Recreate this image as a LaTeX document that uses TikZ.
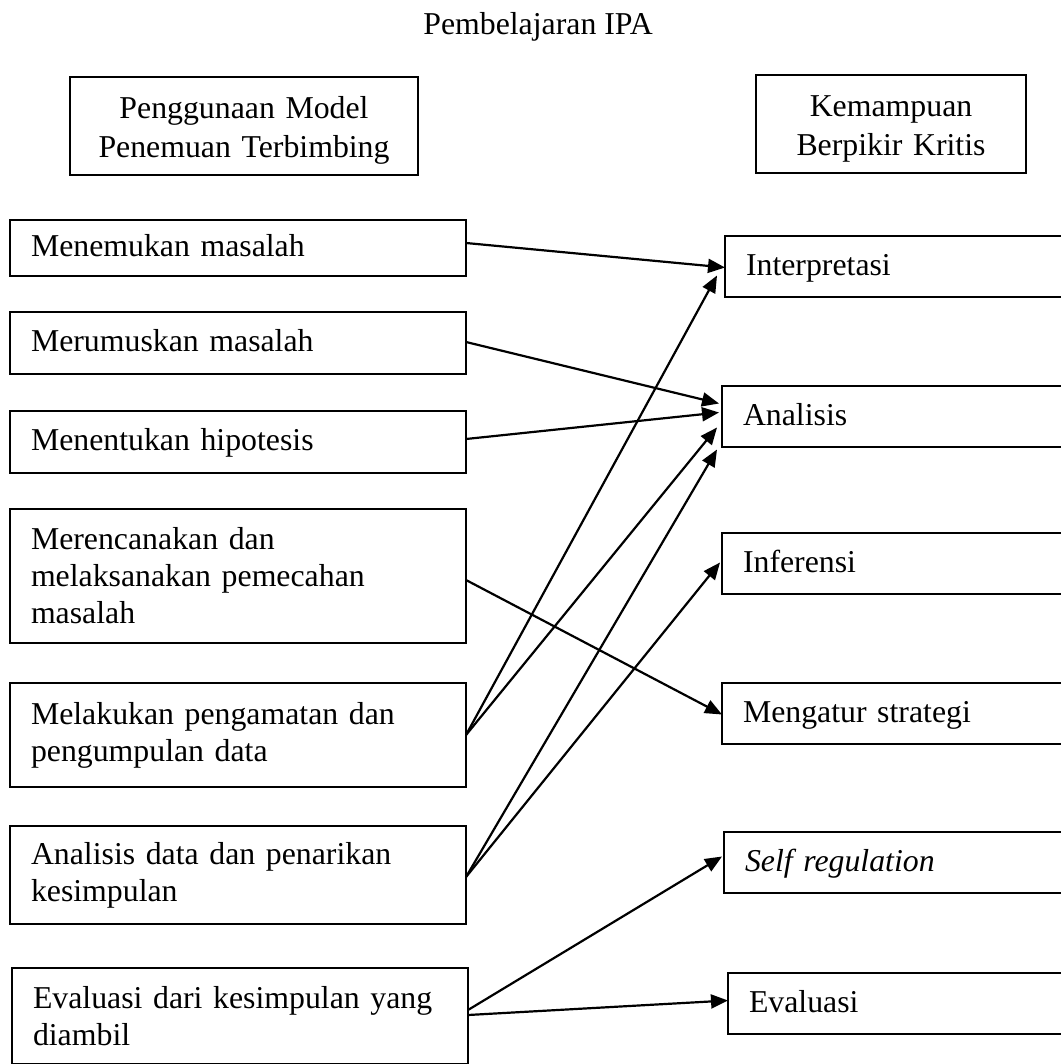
\documentclass[tikz,border=0pt]{standalone}
\usepackage{fontspec}
\setmainfont{Liberation Serif}
\usetikzlibrary{arrows.meta}
\begin{document}
\begin{tikzpicture}[x=1pt,y=-1pt,
  txt/.style={font=\fontsize{31.8}{37}\selectfont},
  box/.style={txt, draw, line width=2.6pt, rectangle, outer sep=0pt, inner xsep=21pt, inner ysep=0pt, anchor=north west, align=left},
  lbox/.style={box, text width=414pt},
  one/.style={text height=22pt, text depth=5pt},
  rbox/.style={box, text width=314pt, minimum height=61pt, text height=22pt, text depth=4pt},
  hbox/.style={box, align=center, inner xsep=5pt, text height=31pt, font=\fontsize{31.8}{38.5}\selectfont},
  arr/.style={line width=2.2pt, -{Triangle[length=17pt,width=14pt]}}
]
\useasboundingbox (0,0) rectangle (1060,1064);

\node[txt, anchor=base] (title) at (538,35) {Pembelajaran IPA};

\node[hbox, text width=338pt, minimum height=98pt] (h1) at (70,77) {Penggunaan Model\\Penemuan Terbimbing};
\node[hbox, text width=260pt, minimum height=98pt] (h2) at (756,75) {Kemampuan\\Berpikir Kritis};

% left column
\node[lbox, one, minimum height=56pt] (m1) at (10,220) {Menemukan masalah};
\node[lbox, one, minimum height=62pt] (m2) at (10,312) {Merumuskan masalah};
\node[lbox, one, minimum height=62pt] (m3) at (10,411) {Menentukan hipotesis};
\node[lbox, minimum height=134pt] (m4) at (10,509) {Merencanakan dan\\melaksanakan pemecahan\\masalah};
\node[lbox, minimum height=104pt] (m5) at (10,683) {Melakukan pengamatan dan\\pengumpulan data};
\node[lbox, minimum height=98pt] (m6) at (10,826) {Analisis data dan penarikan\\kesimpulan};
\node[lbox, minimum height=96pt] (m7) at (12,968) {Evaluasi dari kesimpulan yang\\diambil};

% right column
\node[rbox] (r1) at (725,236) {Interpretasi};
\node[rbox] (r2) at (722,386) {Analisis};
\node[rbox] (r3) at (722,533) {Inferensi};
\node[rbox] (r4) at (722,683) {Mengatur strategi};
\node[rbox] (r5) at (724,832) {\textit{Self regulation}};
\node[rbox] (r6) at (728,973) {Evaluasi};

% connectors
\draw[arr] ([yshift=5pt]m1.east) -- ([yshift=-1pt]r1.west);
\draw[arr] ([yshift=1pt]m2.east) -- ([xshift=-3pt,yshift=13pt]r2.west);
\draw[arr] ([yshift=3pt]m3.east) -- ([xshift=-3pt,yshift=4pt]r2.west);
\draw[arr] ([yshift=-4pt]m4.east) -- ([yshift=-1pt]r4.west);
\draw[arr] (m5.east) -- ([xshift=-8pt,yshift=-9pt]r1.west);
\draw[arr] (m5.east) -- ([xshift=-5pt,yshift=-11pt]r2.west);
\draw[arr] ([yshift=-2pt]m6.east) -- ([xshift=-5pt,yshift=-33pt]r2.west);
\draw[arr] ([yshift=-2pt]m6.east) -- ([xshift=-2pt,yshift=1pt]r3.west);
\draw[arr] ([yshift=-42pt]m7.north east) -- ([xshift=-2pt,yshift=6pt]r5.west);
\draw[arr] ([yshift=-47pt]m7.north east) -- ([yshift=3pt]r6.west);
\end{tikzpicture}
\end{document}
